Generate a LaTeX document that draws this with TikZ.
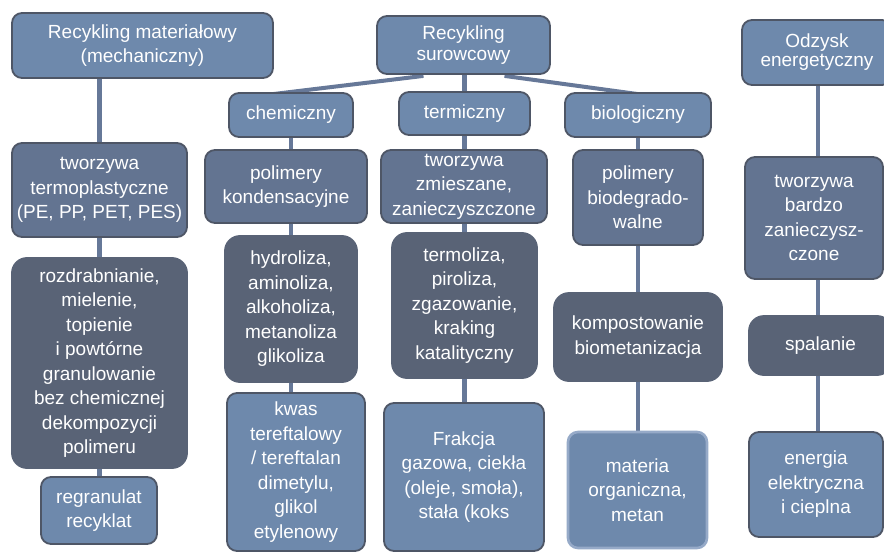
\documentclass[tikz,border=0pt]{standalone}
\usepackage{fontspec}
\setmainfont{Liberation Sans}
\usetikzlibrary{backgrounds}
\definecolor{lightfill}{RGB}{110,137,172}
\definecolor{medfill}{RGB}{99,116,145}
\definecolor{darkfill}{RGB}{89,99,118}
\definecolor{bordercol}{RGB}{78,86,102}
\definecolor{paleborder}{RGB}{150,170,200}
\definecolor{conncol}{RGB}{102,120,152}
\tikzset{
  box/.style={draw=bordercol, line width=1.8pt, rounded corners=10pt, text=white,
    align=center, inner sep=0pt, font=\fontsize{19}{24.5}\selectfont},
  lightbox/.style={box, fill=lightfill},
  medbox/.style={box, fill=medfill},
  darkbox/.style={box, fill=darkfill, draw=darkfill, rounded corners=15pt},
  conn/.style={draw=conncol, line width=4.5pt},
  slant/.style={draw=conncol, line width=4pt}
}
\begin{document}
\begin{tikzpicture}[x=1pt,y=-1pt]
\clip (0,0) rectangle (884,554);
% top level
\node[lightbox, minimum width=261pt, minimum height=65pt] (mat) at (142.5,45.5) {Recykling materiałowy\\(mechaniczny)};
\node[lightbox, minimum width=173pt, minimum height=58pt, font=\fontsize{19}{21}\selectfont] (sur) at (463.5,45) {Recykling\\surowcowy};
\node[lightbox, minimum width=150pt, minimum height=65pt, font=\fontsize{19}{19}\selectfont] (odz) at (817,52.5) {Odzysk\\energetyczny};
% second level
\node[lightbox, minimum width=124pt, minimum height=44pt] (chem) at (291,115) {chemiczny};
\node[lightbox, minimum width=131pt, minimum height=43pt] (term) at (464.5,113.5) {termiczny};
\node[lightbox, minimum width=146pt, minimum height=44pt] (bio) at (638,115) {biologiczny};
% materials
\node[medbox, minimum width=175pt, minimum height=94pt] (tt) at (99.5,190) {tworzywa\\termoplastyczne\\(PE, PP, PET, PES)};
\node[medbox, minimum width=162pt, minimum height=73pt] (pk) at (286,186.5) {polimery\\kondensacyjne};
\node[medbox, minimum width=166pt, minimum height=73pt] (tz) at (464,186.5) {tworzywa\\zmieszane,\\zanieczyszczone};
\node[medbox, minimum width=130pt, minimum height=95pt] (pb) at (638,197.5) {polimery\\biodegrado-\\walne};
\node[medbox, minimum width=138pt, minimum height=122pt] (tbz) at (814,218) {tworzywa\\bardzo\\zanieczysz-\\czone};
% processes
\node[darkbox, minimum width=175pt, minimum height=210pt] (roz) at (99.5,363) {rozdrabnianie,\\mielenie,\\topienie\\i powtórne\\granulowanie\\bez chemicznej\\dekompozycji\\polimeru};
\node[darkbox, minimum width=132pt, minimum height=146pt] (hyd) at (291,309) {hydroliza,\\aminoliza,\\alkoholiza,\\metanoliza\\glikoliza};
\node[darkbox, minimum width=145pt, minimum height=145pt] (termo) at (464.5,305.5) {termoliza,\\piroliza,\\zgazowanie,\\kraking\\katalityczny};
\node[darkbox, minimum width=168pt, minimum height=88pt] (komp) at (638,337) {kompostowanie\\biometanizacja};
\node[darkbox, minimum width=143pt, minimum height=59pt] (spal) at (820.5,345.5) {spalanie};
% products
\node[lightbox, minimum width=116pt, minimum height=67pt] (reg) at (99,510.5) {regranulat\\recyklat};
\node[lightbox, minimum width=138pt, minimum height=158pt] (kwas) at (296,472) {kwas\\tereftalowy\\/ tereftalan\\dimetylu,\\glikol\\etylenowy};
\node[lightbox, minimum width=160pt, minimum height=148pt] (frak) at (464,477) {Frakcja\\gazowa, ciekła\\(oleje, smoła),\\stała (koks};
\node[lightbox, draw=paleborder, line width=2.6pt, minimum width=139pt, minimum height=116pt] (mat2) at (637.5,490) {materia\\organiczna,\\metan};
\node[lightbox, minimum width=134pt, minimum height=105pt] (ener) at (816,484.5) {energia\\elektryczna\\i cieplna};
% connectors
\begin{scope}[on background layer]
\fill[white] (0,0) rectangle (884,554);
\draw[conn] (tt.north |- mat.south) -- (tt.north);
\draw[conn] (tt.south) -- (roz.north);
\draw[conn] (roz.south) -- (roz.south |- reg.north);
\draw[slant] ([xshift=-40pt,yshift=-1pt]sur.south) -- ([xshift=-18pt,yshift=-2pt]chem.north);
\draw[slant] ([xshift=41pt,yshift=-1pt]sur.south) -- ([yshift=-2pt]bio.north);
\draw[conn] (term.north |- sur.south) -- (term.north);
\draw[conn] (chem.south) -- (chem.south |- pk.north);
\draw[conn] (hyd.north |- pk.south) -- (hyd.north);
\draw[conn] (hyd.south) -- (hyd.south |- kwas.north);
\draw[conn] (term.south) -- (term.south |- tz.north);
\draw[conn] (termo.north |- tz.south) -- (termo.north);
\draw[conn] (termo.south) -- (termo.south |- frak.north);
\draw[conn] (bio.south) -- (pb.north);
\draw[conn] (pb.south) -- (komp.north);
\draw[conn] (komp.south) -- (komp.south |- mat2.north);
\draw[conn] ([xshift=1pt]odz.south) -- ([xshift=1pt]odz.south |- tbz.north);
\draw[conn] ([xshift=1pt]odz.south |- tbz.south) -- ([xshift=1pt]odz.south |- spal.north);
\draw[conn] ([xshift=1pt]odz.south |- spal.south) -- ([xshift=1pt]odz.south |- ener.north);
\end{scope}
\end{tikzpicture}
\end{document}
